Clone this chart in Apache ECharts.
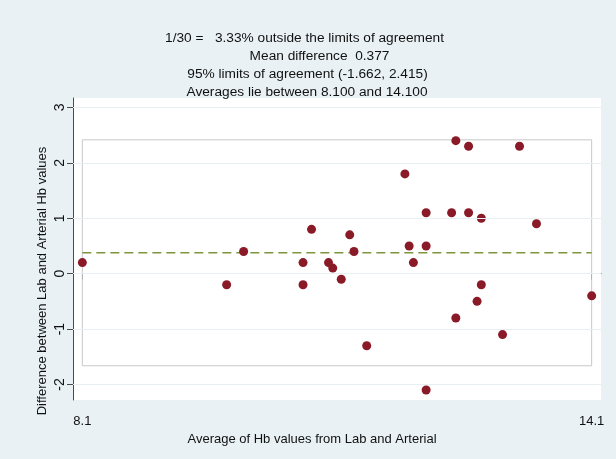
<!DOCTYPE html>
<html>
<head>
<meta charset="utf-8">
<script src="https://cdn.jsdelivr.net/npm/echarts@6/dist/echarts.min.js"></script>
<style>
  html, body { margin: 0; padding: 0; background: #e9f1f4; }
  #chart { width: 616px; height: 459px; }
</style>
</head>
<body>
<div id="chart"></div>
<script>
// Bland-Altman comparison of Hb values (Lab vs Arterial)
var averages = [
  8.1, 9.8, 10.0, 10.7, 10.7, 10.8, 11.0, 11.05, 11.15, 11.25,
  11.3, 11.45, 11.9, 11.95, 12.0, 12.15, 12.15, 12.15, 12.45, 12.5,
  12.5, 12.65, 12.65, 12.75, 12.8, 12.8, 13.05, 13.25, 13.45, 14.1
];
var differences = [
  0.2, -0.2, 0.4, 0.2, -0.2, 0.8, 0.2, 0.1, -0.1, 0.7,
  0.4, -1.3, 1.8, 0.5, 0.2, 1.1, 0.5, -2.1, 1.1, 2.4,
  -0.8, 2.3, 1.1, -0.5, 1.0, -0.2, -1.1, 2.3, 0.9, -0.4
];
var meanDiff = 0.377;
var lowerLimit = -1.662;
var upperLimit = 2.415;
var averageRange = [8.1, 14.1];
var xTickLabels = [8.1, 14.1];
var yTickLabels = [-2, -1, 0, 1, 2, 3];
var titleLines = [
  '1/30 =   3.33% outside the limits of agreement',
  'Mean difference  0.377',
  '95% limits of agreement (-1.662, 2.415)',
  'Averages lie between 8.100 and 14.100'
];

var FONT = '"Liberation Sans", Arial, Helvetica, sans-serif';
var chart = echarts.init(document.getElementById('chart'), null, { renderer: 'canvas' });

var points = averages.map(function (a, i) { return [a, differences[i]]; });
var limitsBox = [
  [averageRange[0], lowerLimit],
  [averageRange[1], lowerLimit],
  [averageRange[1], upperLimit],
  [averageRange[0], upperLimit],
  [averageRange[0], lowerLimit]
];
var meanLine = [[averageRange[0], meanDiff], [averageRange[1], meanDiff]];

var titleCenters = [[304.5, 38], [319.5, 56], [307.5, 74.5], [307, 92]];
var AXIS_COLOR = '#4a4a4a';

option = {
  backgroundColor: '#e9f1f4',
  animation: false,
  textStyle: { fontFamily: FONT },
  grid: {
    left: 73, right: 15, top: 98, bottom: 59,
    show: true, backgroundColor: '#ffffff', borderWidth: 0
  },
  xAxis: {
    type: 'value',
    min: 7.99, max: 14.21,
    axisLine: { show: true, lineStyle: { color: AXIS_COLOR, width: 1 } },
    axisTick: { show: true, length: 6, customValues: xTickLabels, lineStyle: { color: AXIS_COLOR, width: 1 } },
    axisLabel: {
      customValues: xTickLabels, margin: 15,
      color: '#111', fontSize: 13, fontFamily: FONT,
      formatter: function (v) { return v.toFixed(1); }
    },
    splitLine: { show: false }
  },
  yAxis: {
    type: 'value',
    min: -2.28, max: 3.17,
    axisLine: { show: true, lineStyle: { color: AXIS_COLOR, width: 1 } },
    axisTick: { show: true, length: 6, customValues: yTickLabels, lineStyle: { color: AXIS_COLOR, width: 1 } },
    axisLabel: {
      customValues: yTickLabels, rotate: 90, margin: 6,
      color: '#111', fontSize: 14, fontFamily: FONT
    },
    splitLine: { show: false }
  },
  graphic: titleLines.map(function (t, i) {
    return {
      type: 'text', x: titleCenters[i][0], y: titleCenters[i][1],
      style: { text: t, fill: '#111', font: '13.7px ' + FONT, textAlign: 'center', textVerticalAlign: 'middle' }
    };
  }).concat([
    {
      type: 'text', x: 312, y: 439,
      style: { text: 'Average of Hb values from Lab and Arterial', fill: '#111', font: '13px ' + FONT, textAlign: 'center', textVerticalAlign: 'middle' }
    },
    {
      type: 'text', x: 42, y: 281, rotation: Math.PI / 2,
      style: { text: 'Difference between Lab and Arterial Hb values', fill: '#111', font: '13px ' + FONT, textAlign: 'center', textVerticalAlign: 'middle' }
    }
  ]),
  series: [
    {
      // horizontal grid lines at each labelled tick
      type: 'line', data: [], silent: true,
      markLine: {
        silent: true, symbol: 'none', label: { show: false },
        lineStyle: { color: '#e8eff2', width: 1, type: 'solid' },
        data: yTickLabels.map(function (v) { return { yAxis: v }; })
      },
      z: 1
    },
    {
      // limits of agreement box
      type: 'line', data: limitsBox, showSymbol: false, silent: true,
      lineStyle: { color: '#c8c8c8', width: 1 }, z: 2
    },
    {
      // mean difference
      type: 'line', data: meanLine, showSymbol: false, silent: true,
      lineStyle: { color: '#7d963e', width: 1.5, type: [9, 5] }, z: 3
    },
    {
      type: 'scatter', data: points, symbol: 'circle', symbolSize: 9,
      itemStyle: { color: '#8a1a28', opacity: 1 }, z: 4
    }
  ]
};
chart.setOption(option);
</script>
</body>
</html>
